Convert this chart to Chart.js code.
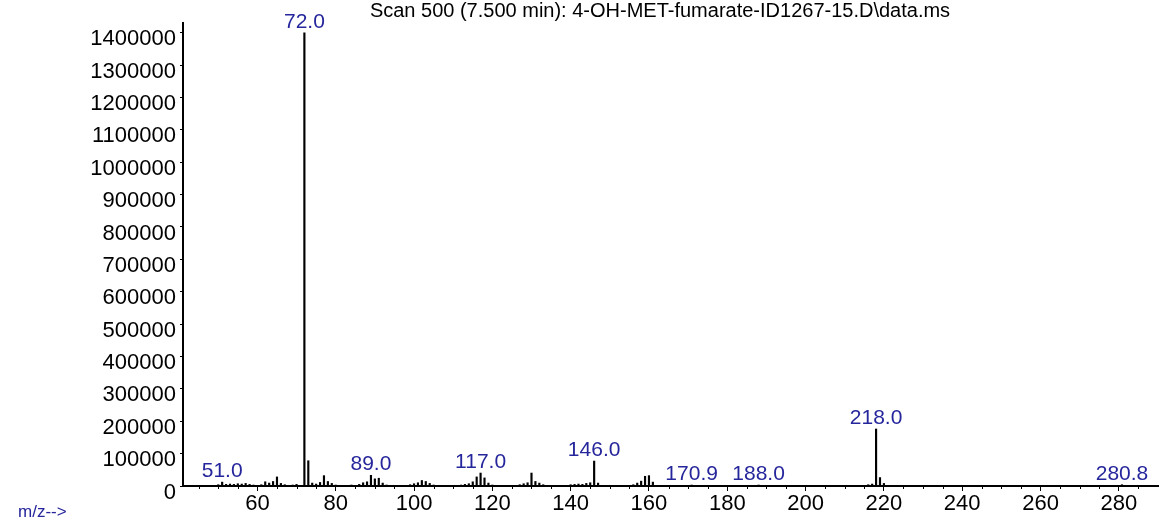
<!DOCTYPE html>
<html>
<head>
<meta charset="utf-8">
<title>Scan 500 mass spectrum</title>
<script src="https://cdn.jsdelivr.net/npm/chart.js@4.4.1/dist/chart.umd.min.js"></script>
<style>
  html, body { margin: 0; padding: 0; background: #fff; }
  #wrap { width: 1160px; height: 524px; }
</style>
</head>
<body>
<div id="wrap"><canvas id="ms-chart" width="1160" height="524"></canvas></div>
<script>
// m/z values and their abundances
const massValues = [
  50, 51, 52, 53, 54, 55, 56, 57, 58, 59,
  61, 62, 63, 64, 65, 66, 67, 69, 70,
  72, 73, 74, 75, 76, 77, 78, 79, 80,
  84, 86, 87, 88, 89, 90, 91, 92, 93,
  99, 100, 101, 102, 103, 104, 105,
  112, 113, 114, 115, 116, 117, 118, 119, 120,
  127, 128, 129, 130, 131, 132, 133,
  140, 141, 142, 143, 144, 145, 146, 147,
  156, 157, 158, 159, 160, 161,
  170.9, 188.0,
  216, 217, 218, 219, 220,
  280.8
];
const intensities = [
  4000, 12000, 5000, 6000, 5000, 7000, 6000, 8000, 5000, 3000,
  4000, 13000, 9000, 14000, 28000, 8000, 4000, 3000, 5000,
  1400000, 78000, 9000, 6000, 11000, 32000, 14000, 8000, 3000,
  3000, 5000, 10000, 13000, 33000, 22000, 24000, 9000, 3000,
  4000, 7000, 10000, 17000, 14000, 8000, 3000,
  3000, 5000, 7000, 13000, 28000, 40000, 25000, 9000, 3000,
  4000, 7000, 10000, 40000, 14000, 9000, 4000,
  4000, 5000, 6000, 5000, 8000, 10000, 77000, 9000,
  4000, 9000, 15000, 30000, 32000, 12000,
  3000, 3000,
  4000, 6000, 176000, 26000, 8000,
  4000
];

// labelled peaks
const peakLabelMasses = [51, 72, 89, 117, 146, 170.9, 188.0, 218, 280.8];
const peakLabelTexts = ['51.0', '72.0', '89.0', '117.0', '146.0', '170.9', '188.0', '218.0', '280.8'];

// axis ticks
const xTickValues = [60, 80, 100, 120, 140, 160, 180, 200, 220, 240, 260, 280];
const yTickValues = [0, 100000, 200000, 300000, 400000, 500000, 600000, 700000,
  800000, 900000, 1000000, 1100000, 1200000, 1300000, 1400000];

const titleText = 'Scan 500 (7.500 min): 4-OH-MET-fumarate-ID1267-15.D\\data.ms';
const axisLabelText = 'm/z-->';

const FONT = '"Liberation Sans", Arial, sans-serif';
const LABEL_BLUE = '#26269c';

// draws the small 5-unit ticks, the peak labels and the texts around the plot
const spectrumDecor = {
    id: 'spectrumDecor',
    afterDraw(chart) {
        const ctx = chart.ctx;
        const xScale = chart.scales.x;
        const yScale = chart.scales.y;
        const base = chart.chartArea.bottom;

        ctx.save();
        ctx.strokeStyle = '#000';
        ctx.lineWidth = 1;
        for (let v = 45; v < xScale.max; v += 5) {
            if (xTickValues.includes(v)) continue;
            const px = Math.round(xScale.getPixelForValue(v)) + 0.5;
            ctx.beginPath();
            ctx.moveTo(px, base);
            ctx.lineTo(px, base + 3);
            ctx.stroke();
        }

        ctx.fillStyle = LABEL_BLUE;
        ctx.font = '21px ' + FONT;
        ctx.textAlign = 'center';
        ctx.textBaseline = 'alphabetic';
        peakLabelMasses.forEach((mz, i) => {
            const idx = massValues.indexOf(mz);
            const px = xScale.getPixelForValue(mz);
            const py = yScale.getPixelForValue(intensities[idx]);
            ctx.fillText(peakLabelTexts[i], px, py - 5);
        });

        ctx.fillStyle = '#000';
        ctx.font = '20px ' + FONT;
        ctx.fillText(titleText, 660, 17);

        ctx.fillStyle = LABEL_BLUE;
        ctx.font = '17px ' + FONT;
        ctx.textAlign = 'left';
        ctx.fillText(axisLabelText, 18, 517);
        ctx.restore();
    }
};

document.addEventListener('DOMContentLoaded', () => {
    const canvas = document.getElementById('ms-chart');

    new Chart(canvas, {
        type: 'bar',
        data: {
            datasets: [{
                data: massValues.map((mz, i) => ({ x: mz, y: intensities[i] })),
                backgroundColor: '#000',
                borderWidth: 0,
                barThickness: 1.5
            }]
        },
        options: {
            responsive: false,
            animation: false,
            devicePixelRatio: 1,
            layout: { padding: { top: 23, right: 2, left: 0, bottom: 0 } },
            plugins: { legend: { display: false }, tooltip: { enabled: false } },
            scales: {
                x: {
                    type: 'linear',
                    min: 41,
                    max: 290,
                    offset: false,
                    afterBuildTicks: s => { s.ticks = xTickValues.map(v => ({ value: v })); },
                    afterFit: s => { s.height = 38; },
                    grid: { offset: false, drawOnChartArea: false, drawTicks: true, tickLength: 5, color: '#000' },
                    border: { color: '#000', width: 2 },
                    ticks: { color: '#000', font: { family: FONT, size: 22 }, padding: 0, maxRotation: 0, autoSkip: false }
                },
                y: {
                    min: 0,
                    max: 1430000,
                    afterBuildTicks: s => { s.ticks = yTickValues.map(v => ({ value: v })); },
                    afterFit: s => { s.width = 183; },
                    grid: { drawOnChartArea: false, drawTicks: true, tickLength: 3, color: '#000' },
                    border: { color: '#000', width: 2 },
                    ticks: {
                        color: '#000',
                        font: { family: FONT, size: 22 },
                        padding: 4,
                        labelOffset: 6.5,
                        callback: v => String(v)
                    }
                }
            }
        },
        plugins: [spectrumDecor]
    });
});
</script>
</body>
</html>
